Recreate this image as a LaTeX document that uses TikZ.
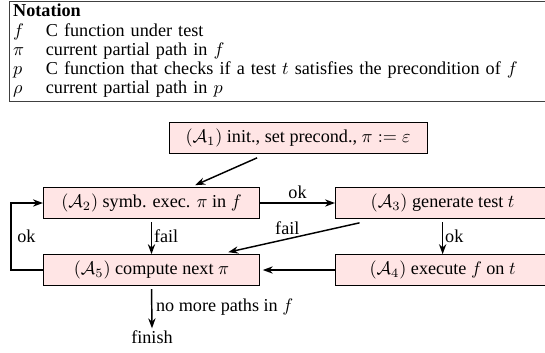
\documentclass[tikz,border=0pt]{standalone}
\usepackage{amsmath}
\usepackage{fontspec}
\setmainfont{Liberation Serif}
\usepackage{tikz}
\usetikzlibrary{arrows.meta}
\newcommand{\stageheight}{17pt}
\newcommand{\stagewidth}{119pt}
\tikzstyle{stage}=[draw, fill=red!10, inner xsep=2pt, inner ysep=0, minimum height=\stageheight]
\tikzstyle{leftstage}=[stage, minimum width=\stagewidth]
\tikzstyle{widestage}=[stage, anchor=west, minimum width=118pt]
\tikzstyle{flow}=[-{Stealth[length=5.5pt,width=4pt]}, line width=0.8pt]
\tikzstyle{notebox}=[draw=black!75, line width=0.6pt, anchor=north west, inner xsep=2pt, inner ysep=1pt,
                     text width=306pt, align=left]

\begin{document}
\begin{tikzpicture}[x=0.55pt, y=-0.55pt,
                    % Labels sit close to the arrows.
                    every label/.style={inner sep=1pt}]
        \useasboundingbox (0, 0) rectangle (545, 352);
        \node[notebox] (notation) at (9, 1) {%
            \renewcommand{\arraystretch}{0.88}%
            \begin{tabular}{@{}p{18pt}@{}l@{}}
                \multicolumn{2}{@{}l}{\textbf{Notation}} \\
                $f$ & C function under test \\
                $\pi$ & current partial path in $f$ \\
                $p$ & C function that checks if a test $t$ satisfies the precondition of $f$ \\
                $\rho$ & current partial path in $p$
            \end{tabular}};
        \node[stage, minimum width=142pt] (A1) at (298, 138) {$(\mathcal{A}_1)$ init., set precond., $\pi := \varepsilon$};
        \node[leftstage] (A2) at (151.5, 203) {$(\mathcal{A}_2)$ symb. exec. $\pi$ in $f$};
        \node[widestage] (A3) at (335, 203) {$(\mathcal{A}_3)$ generate test $t$};
        \node[widestage] (A4) at (335, 270) {$(\mathcal{A}_4)$ execute $f$ on $t$};
        \node[leftstage] (A5) at (151.5, 270) {$(\mathcal{A}_5)$ compute next $\pi$};
        \node[inner sep=1pt] (finish) at (152, 337) {finish};
        \draw[flow] ([xshift=-22.5pt, yshift=-2.2pt]A1.south) -- ([xshift=24pt, yshift=1.1pt]A2.north);
        \draw[flow] (A2.east) -- node[above, inner sep=2pt] {ok} (A3.west);
        \draw[flow, shorten <=1.8pt] (A2.south) -- node[right, inner sep=1pt] {fail} (A5.north);
        \draw[flow] ([xshift=13.5pt, yshift=-2.2pt]A3.south west)
            -- node[above, pos=0.55, inner sep=2pt] {fail} ([xshift=-17.5pt, yshift=1.1pt]A5.north east);
        \draw[flow, shorten <=1.8pt] (A3.south) -- node[right, inner sep=1pt] {ok} (A4.north);
        \draw[flow, shorten >=1.5pt] (A4.west) -- (A5.east);
        \draw[flow] (A5.west) -- ++(-17.5pt, 0) |- node[pos=0.25, right, inner sep=3pt] {ok} (A2.west);
        \draw[flow, shorten <=1.8pt] (A5.south) -- node[right, inner sep=2pt] {no more paths in $f$} (finish.north);
    \end{tikzpicture}
\end{document}
